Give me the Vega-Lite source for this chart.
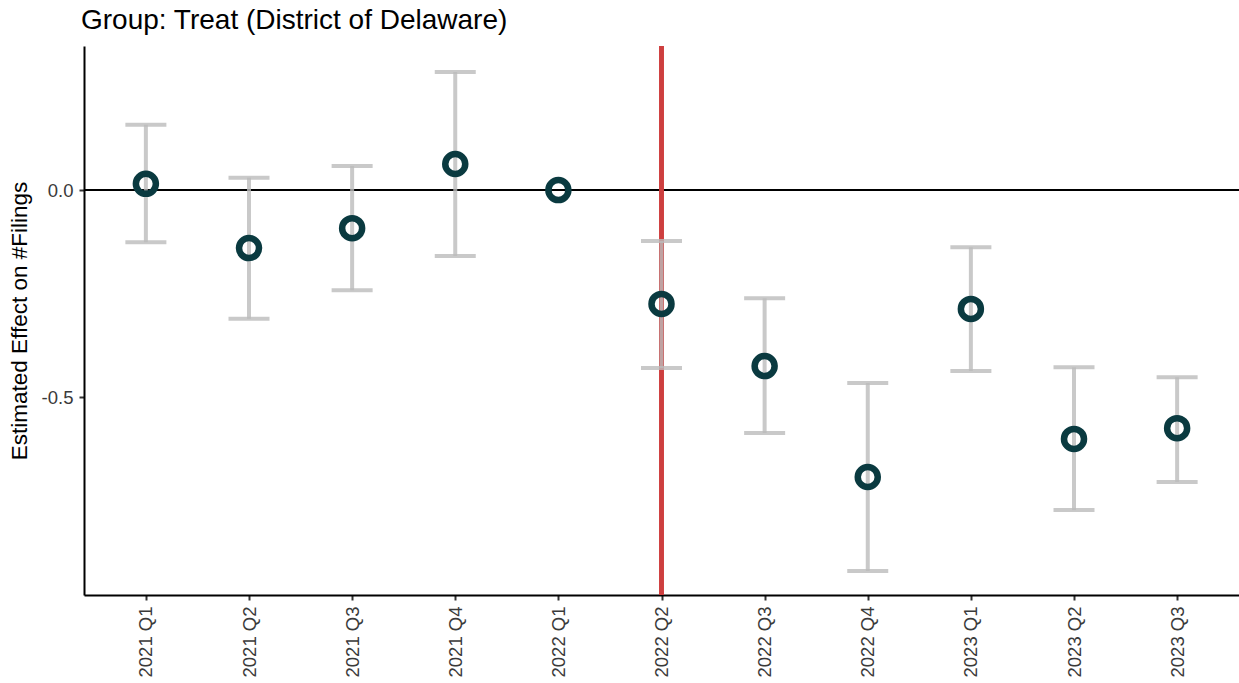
{
  "$schema": "https://vega.github.io/schema/vega-lite/v6.json",
  "width": 1155,
  "height": 549,
  "autosize": {"type": "none"},
  "padding": {"left": 84, "top": 46, "right": 0, "bottom": 88},
  "background": "white",
  "title": {
    "text": "Group: Treat (District of Delaware)",
    "anchor": "start",
    "frame": "group",
    "font": "Liberation Sans",
    "fontSize": 28,
    "fontWeight": "normal",
    "color": "black",
    "offset": 9,
    "dx": -3
  },
  "config": {
    "view": {"stroke": null},
    "axis": {
      "labelFont": "Liberation Sans",
      "titleFont": "Liberation Sans",
      "grid": false
    }
  },
  "data": {
    "values": [
      {"quarter": "2021 Q1", "est": 0.015, "lo": -0.126, "hi": 0.158},
      {"quarter": "2021 Q2", "est": -0.140, "lo": -0.311, "hi": 0.030},
      {"quarter": "2021 Q3", "est": -0.092, "lo": -0.242, "hi": 0.058},
      {"quarter": "2021 Q4", "est": 0.063, "lo": -0.159, "hi": 0.285},
      {"quarter": "2022 Q1", "est": 0.0, "lo": null, "hi": null},
      {"quarter": "2022 Q2", "est": -0.275, "lo": -0.430, "hi": -0.123},
      {"quarter": "2022 Q3", "est": -0.425, "lo": -0.587, "hi": -0.261},
      {"quarter": "2022 Q4", "est": -0.693, "lo": -0.920, "hi": -0.466},
      {"quarter": "2023 Q1", "est": -0.287, "lo": -0.437, "hi": -0.138},
      {"quarter": "2023 Q2", "est": -0.601, "lo": -0.773, "hi": -0.428},
      {"quarter": "2023 Q3", "est": -0.575, "lo": -0.705, "hi": -0.452}
    ]
  },
  "encoding": {
    "x": {
      "field": "quarter",
      "type": "ordinal",
      "scale": {
        "type": "point",
        "padding": 0.6,
        "domain": ["2021 Q1", "2021 Q2", "2021 Q3", "2021 Q4", "2022 Q1", "2022 Q2", "2022 Q3", "2022 Q4", "2023 Q1", "2023 Q2", "2023 Q3"]
      },
      "axis": {
        "title": null,
        "labelAngle": 270,
        "labelFontSize": 18.5,
        "labelColor": "#3a3a3a",
        "labelPadding": 6,
        "domainColor": "black",
        "domainWidth": 2,
        "tickColor": "#333333",
        "tickWidth": 2,
        "tickSize": 5
      }
    }
  },
  "layer": [
    {
      "mark": {"type": "rule", "color": "black", "strokeWidth": 2},
      "encoding": {
        "x": null,
        "y": {"datum": 0, "type": "quantitative"}
      }
    },
    {
      "mark": {"type": "rule", "color": "#cd3f3f", "strokeWidth": 3.5},
      "encoding": {
        "x": {"datum": "2022 Q2", "type": "ordinal"}
      }
    },
    {
      "mark": {"type": "rule", "color": "#bbbbbb", "opacity": 0.8, "strokeWidth": 4},
      "encoding": {
        "y": {"field": "lo", "type": "quantitative"},
        "y2": {"field": "hi"}
      }
    },
    {
      "mark": {"type": "tick", "color": "#bbbbbb", "opacity": 0.8, "thickness": 4, "size": 41},
      "encoding": {
        "y": {"field": "lo", "type": "quantitative"}
      }
    },
    {
      "mark": {"type": "tick", "color": "#bbbbbb", "opacity": 0.8, "thickness": 4, "size": 41},
      "encoding": {
        "y": {"field": "hi", "type": "quantitative"}
      }
    },
    {
      "mark": {"type": "point", "shape": "circle", "filled": false, "color": "#0a3a40", "strokeWidth": 6.5, "size": 400, "opacity": 1},
      "encoding": {
        "y": {
          "field": "est",
          "type": "quantitative",
          "scale": {"domain": [-0.978, 0.348], "nice": false, "zero": false},
          "axis": {
            "title": "Estimated Effect on #Filings",
            "titleFontSize": 22.5,
            "titleFontWeight": "normal",
            "titleColor": "black",
            "titlePadding": 10,
            "values": [-0.5, 0],
            "labelExpr": "datum.value == 0 ? '0.0' : '-0.5'",
            "labelFontSize": 18.5,
            "labelColor": "#3a3a3a",
            "labelPadding": 6,
            "domainColor": "black",
            "domainWidth": 2,
            "tickColor": "#333333",
            "tickWidth": 2,
            "tickSize": 5
          }
        }
      }
    }
  ],
  "resolve": {"scale": {"y": "shared"}}
}
